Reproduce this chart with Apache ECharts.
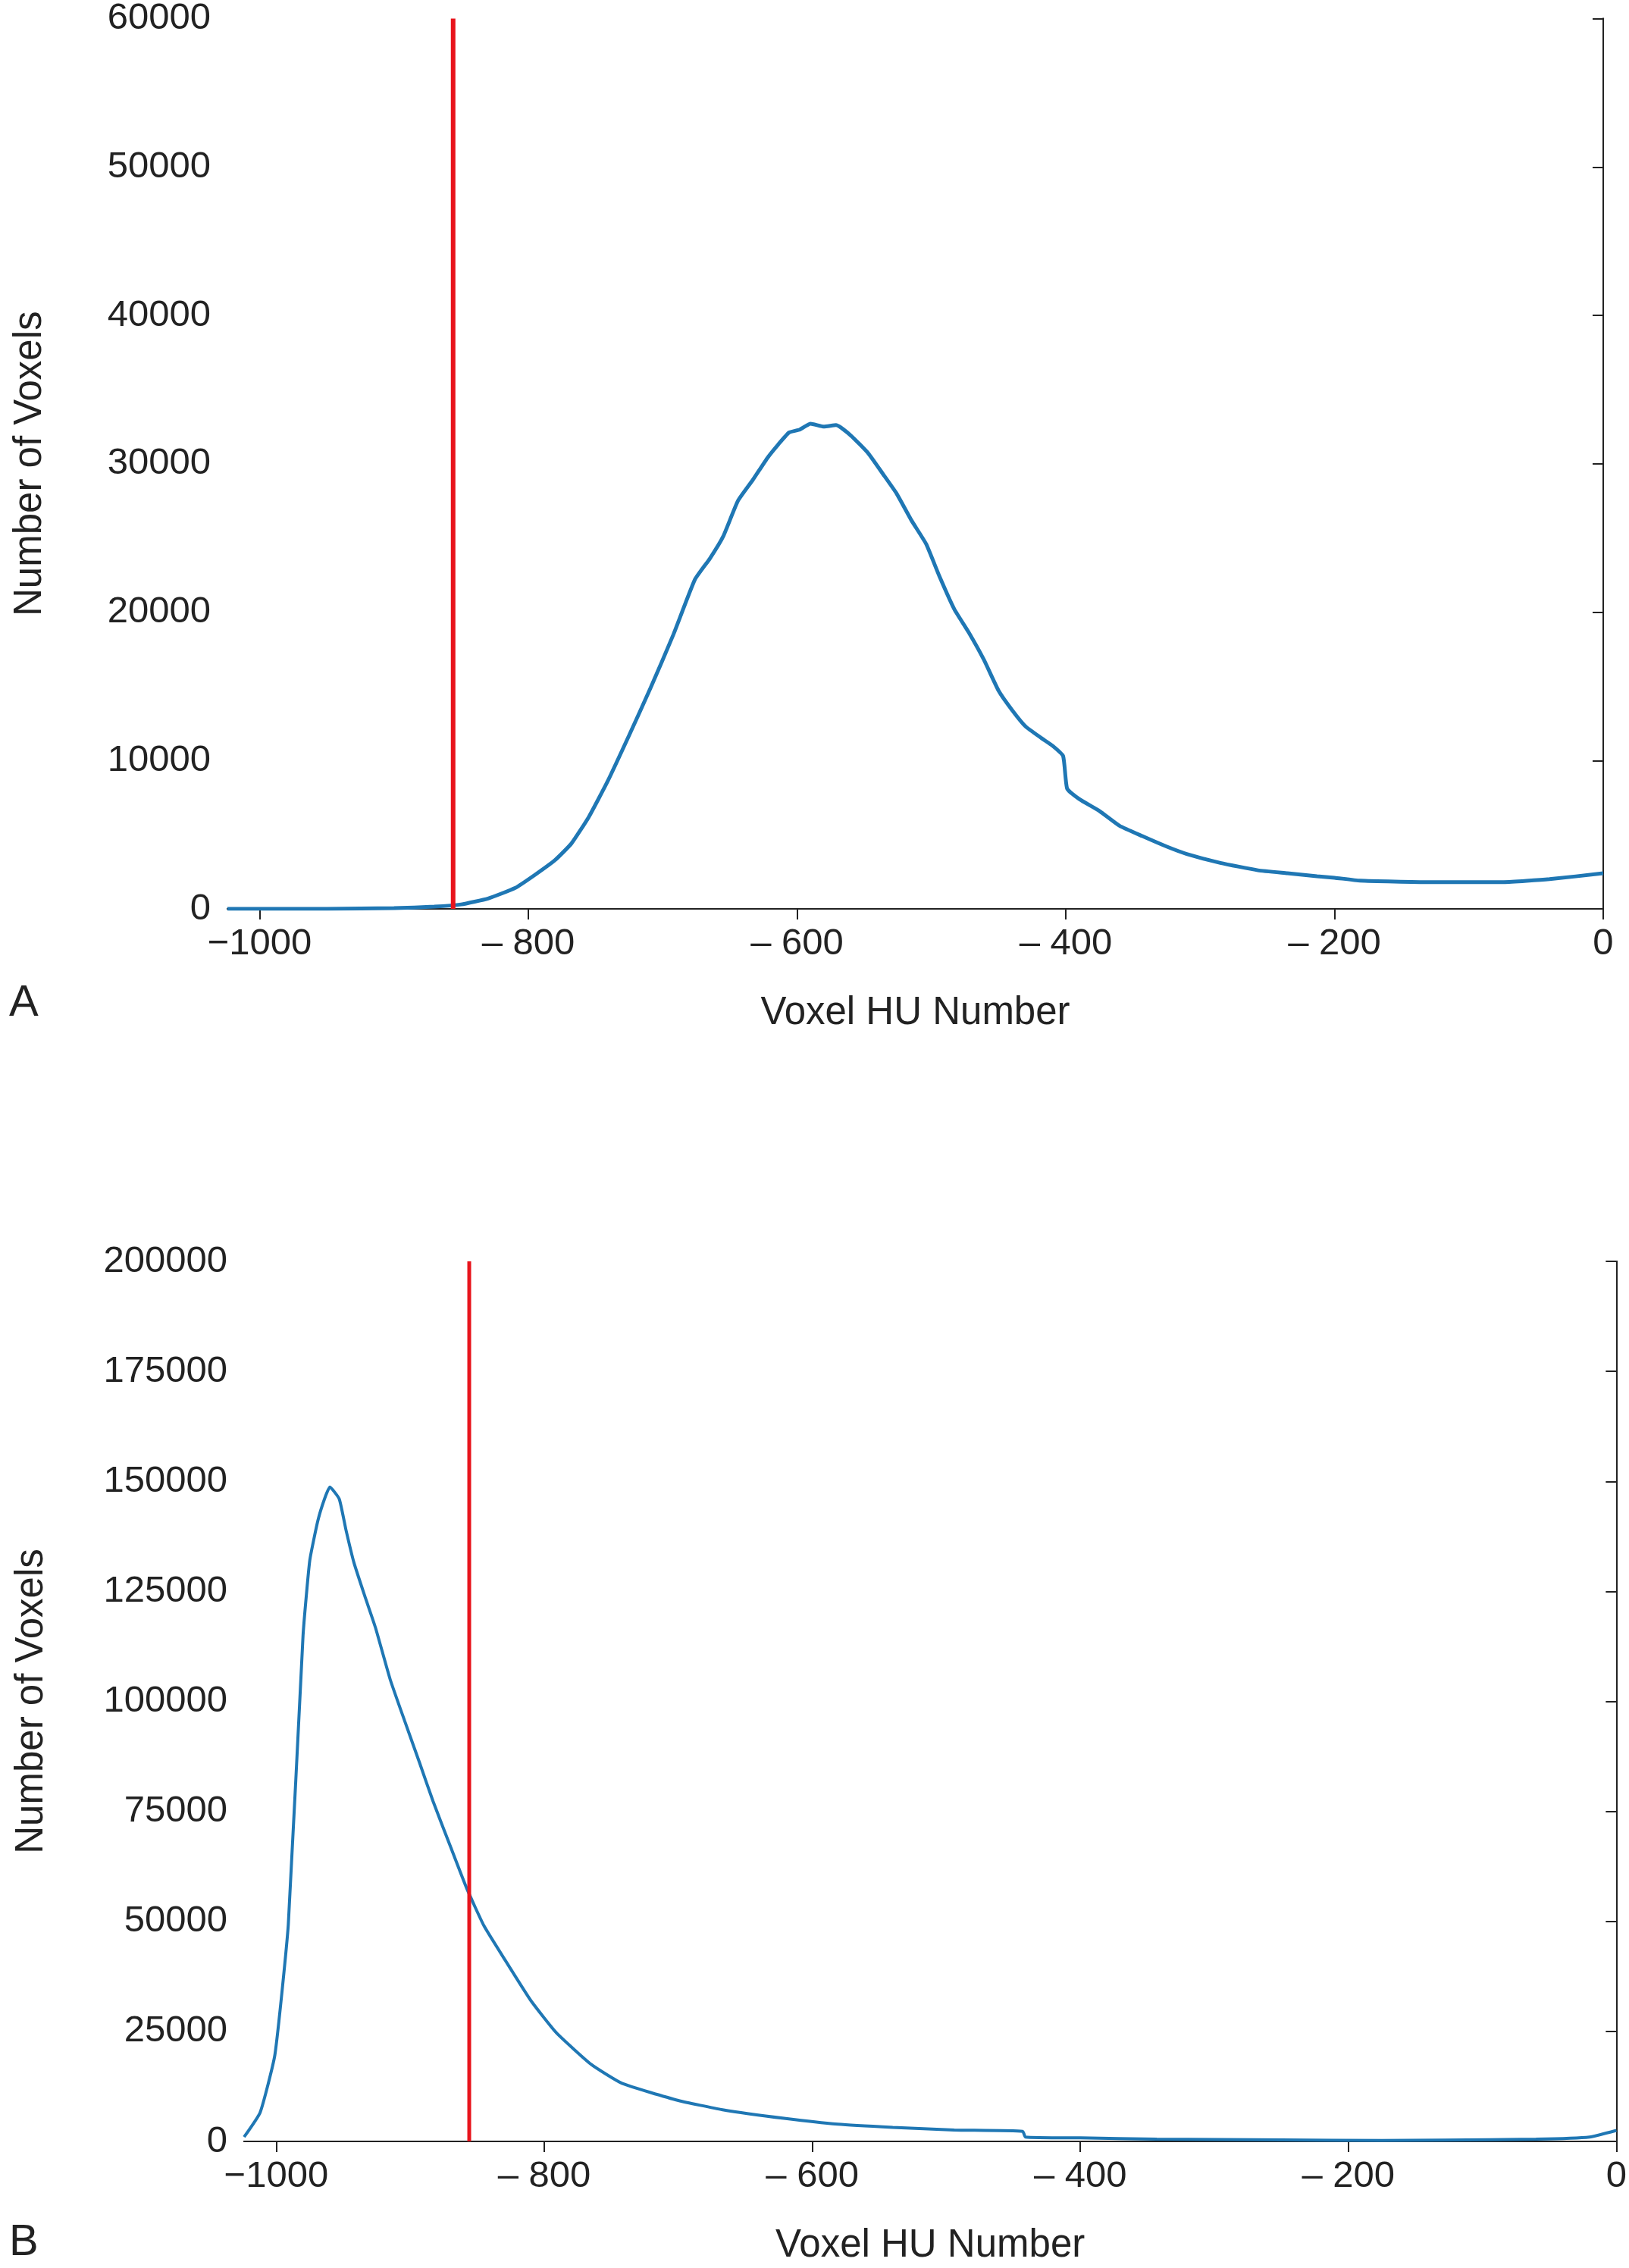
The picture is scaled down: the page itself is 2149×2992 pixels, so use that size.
<!DOCTYPE html>
<html><head><meta charset="utf-8">
<script src="https://cdn.jsdelivr.net/npm/echarts@6/dist/echarts.min.js"></script>
<style>html,body{margin:0;padding:0;background:#fff}#c{width:2149px;height:2992px}</style>
</head><body><div id="c"></div>
<script>
const xTicks = [-1000,-800,-600,-400,-200,0];
const thresholdHU = -856;
const histA_x = [-1024,-950,-900,-870,-850,-830,-810,-795,-780,-768,-755,-741,-725,-709,-692,-676,-665,-655,-644,-633,-622,-614,-606,-598,-590,-580,-571,-560,-547,-536,-526,-515,-504,-494,-483,-472,-461,-450,-440,-430,-418,-410,-402,-399,-390,-375,-360,-343,-325,-310,-285,-257,-235,-213,-200,-181,-130,-74,-40,0];
const histA_y = [0,0,50,150,300,700,1400,2300,3300,4400,6200,8600,11700,14900,18500,22200,23600,25100,27500,28900,30400,31300,32100,32300,32700,32500,32600,31900,30700,29300,28000,26200,24600,22400,20200,18600,16800,14700,13400,12300,11500,11000,10300,8100,7400,6600,5600,4900,4200,3700,3100,2600,2400,2200,2100,1900,1800,1800,2000,2400];
const histB_x = [-1024,-1012,-1001,-991,-980,-975,-969,-964,-960,-953,-948,-942,-934,-926,-915,-904,-893,-883,-870,-858,-845,-829,-810,-791,-765,-742,-700,-667,-620,-581,-540,-494,-443,-441,-400,-343,-250,-175,-128,-60,-20,0];
const histB_y = [1000,6600,19700,49300,115000,132000,141000,146000,148700,146000,139000,131500,124000,116800,105000,95400,86000,77300,67000,57600,49000,41100,32000,24700,17500,13200,9300,7200,5200,3900,3200,2600,2300,1000,800,500,350,200,300,500,1000,2500];
const yTicksA = {max:60000, step:10000};
const yTicksB = {max:200000, step:25000};

const font = 'Liberation Sans, Arial, sans-serif';
const ink = '#222';
function xfmt(v){ if(v===0) return '0'; if(v===-1000) return '\u22121000'; return '\u2013 ' + Math.abs(v); }
function mkX(i){ return {type:'value', gridIndex:i, min:-1024, max:0, interval:200,
  axisLabel:{customValues:xTicks, formatter:xfmt, fontSize:49, color:ink, fontFamily:font, margin:22},
  axisTick:{customValues:xTicks, length:14, lineStyle:{color:ink, width:2}},
  axisLine:{lineStyle:{color:ink, width:2}}, splitLine:{show:false},
  name:'Voxel HU Number', nameLocation:'middle', nameGap:112, nameTextStyle:{fontSize:51, color:ink, fontFamily:font}}; }
function mkXTop(i){ return {type:'value', gridIndex:i, position:'top', min:-1024, max:0,
  axisLabel:{show:false}, axisTick:{show:false}, splitLine:{show:false}, axisLine:{show:true, lineStyle:{color:ink, width:2}}}; }
function mkY(i, t, gap){ return {type:'value', gridIndex:i, min:0, max:t.max, interval:t.step,
  axisLabel:{fontSize:49, color:ink, fontFamily:font, margin:22, formatter:v=>String(v)},
  axisTick:{length:14, lineStyle:{color:ink, width:2}},
  axisLine:{show:true, lineStyle:{color:ink, width:2}}, splitLine:{show:false},
  name:'Number of Voxels', nameLocation:'middle', nameGap:gap, nameTextStyle:{fontSize:51, color:ink, fontFamily:font}}; }
function mkYRight(i, t){ return {type:'value', gridIndex:i, position:'right', min:0, max:t.max,
  axisLabel:{show:false}, axisTick:{show:false}, splitLine:{show:false}, axisLine:{show:true, lineStyle:{color:ink, width:2}}}; }
const zip = (a,b)=>a.map((v,i)=>[v,b[i]]);
const chart = echarts.init(document.getElementById('c'));
chart.setOption({
  animation:false, backgroundColor:'#fff',
  grid:[{left:300, top:21, width:1815, height:1178},
        {left:322, top:1664, width:1812, height:1161}],
  xAxis:[mkX(0), mkX(1), mkXTop(0), mkXTop(1)],
  yAxis:[mkY(0, yTicksA, 235), mkY(1, yTicksB, 255), mkYRight(0, yTicksA), mkYRight(1, yTicksB)],
  graphic:[{type:'text', left:12, top:1295, style:{text:'A', fontSize:58, fill:ink, fontFamily:font}},
           {type:'text', left:12, top:2930, style:{text:'B', fontSize:58, fill:ink, fontFamily:font}}],
  series:[
    {type:'line', xAxisIndex:0, yAxisIndex:0, data:zip(histA_x,histA_y), showSymbol:false, smooth:0.15, lineStyle:{color:'#1f77b4', width:5}},
    {type:'line', xAxisIndex:0, yAxisIndex:0, data:[[thresholdHU,0],[thresholdHU,yTicksA.max]], showSymbol:false, lineStyle:{color:'#e8141c', width:6}},
    {type:'line', xAxisIndex:1, yAxisIndex:1, data:zip(histB_x,histB_y), showSymbol:false, smooth:0.15, lineStyle:{color:'#1f77b4', width:4}},
    {type:'line', xAxisIndex:1, yAxisIndex:1, data:[[thresholdHU,0],[thresholdHU,yTicksB.max]], showSymbol:false, lineStyle:{color:'#e8141c', width:5}}
  ]
});
</script></body></html>
